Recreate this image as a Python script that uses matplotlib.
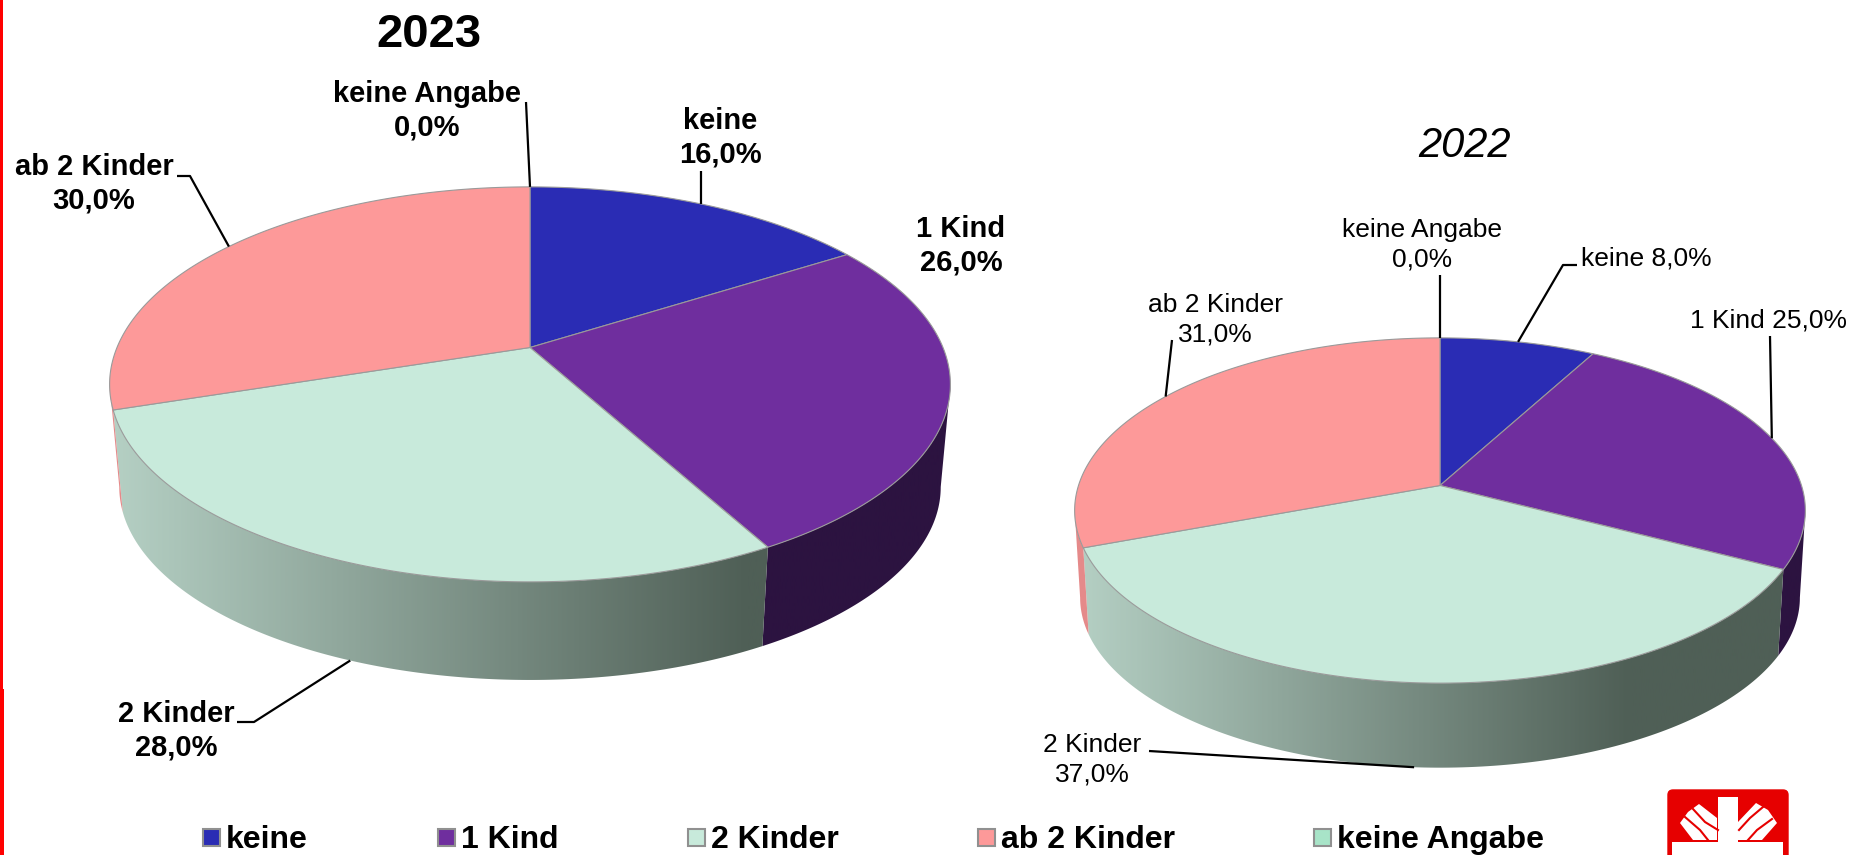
#!/usr/bin/env python3
# -*- coding: utf-8 -*-
import numpy as np
import matplotlib
matplotlib.use("Agg")
import matplotlib.pyplot as plt
from matplotlib.patches import Polygon, Rectangle, FancyBboxPatch
from matplotlib.colors import LinearSegmentedColormap

plt.rcParams['font.family'] = ['Liberation Sans', 'DejaVu Sans']

categories = ['keine', '1 Kind', '2 Kinder', 'ab 2 Kinder', 'keine Angabe']
values_2023 = [16.0, 26.0, 28.0, 30.0, 0.0]
values_2022 = [8.0, 25.0, 37.0, 31.0, 0.0]

top_colors = ['#2a2cb4', '#6f2e9e', '#c8eadb', '#fd9999', '#a8e4c8']
side_light = ['#20228a', '#2c1340', '#b5d0c4', '#e58a8a', '#a8e4c8']
side_dark = ['#20228a', '#2c1340', '#4f5f56', '#e58a8a', '#a8e4c8']
EDGE = '#9a9a9a'


def project(theta, p, lower=False):
    # theta in degrees clockwise from the back of the pie, tilted circle -> image
    t = np.radians(theta)
    d = 1 + p['k'] * np.cos(t)
    s = p['shrink'] if lower else 1.0
    cy = p['cy_low'] if lower else p['cy']
    return p['cx'] + s * p['A'] * np.sin(t) / d, cy - s * p['B'] * np.cos(t) / d


def bounds(values):
    v = np.asarray(values, dtype=float)
    return np.concatenate([[0], np.cumsum(v)]) / v.sum() * 360


def draw_pie(ax, values, p):
    b = bounds(values)
    th_r = np.degrees(np.arccos(-p['k']))
    th_l = 360 - th_r
    xl = p['cx'] - p['A'] / np.sqrt(1 - p['k'] ** 2)
    xr = p['cx'] + p['A'] / np.sqrt(1 - p['k'] ** 2)
    # side walls first
    for i in range(len(values)):
        lo, hi = max(b[i], th_r), min(b[i + 1], th_l)
        if hi <= lo:
            continue
        th = np.linspace(lo, hi, 150)
        x1, y1 = project(th, p)
        x2, y2 = project(th[::-1], p, lower=True)
        wall = Polygon(np.column_stack([np.r_[x1, x2], np.r_[y1, y2]]), closed=True,
                       fc='none', ec='none')
        ax.add_patch(wall)
        cm = LinearSegmentedColormap.from_list('w', [side_light[i], side_dark[i]])
        grad = np.clip(np.linspace(0, 1, 400) / 0.76, 0, 1)[None, :]
        im = ax.imshow(grad, cmap=cm, vmin=0, vmax=1, aspect='auto',
                       extent=(xl, xr, 855, 0), zorder=2)
        im.set_clip_path(wall)
    # top face
    for i in range(len(values)):
        if values[i] == 0:
            continue
        th = np.linspace(b[i], b[i + 1], 200)
        x, y = project(th, p)
        pts = np.column_stack([np.r_[p['cx'], x], np.r_[p['cy'], y]])
        ax.add_patch(Polygon(pts, closed=True, fc=top_colors[i], ec=EDGE, lw=0.8, zorder=3))


def leader(ax, values, i, p, corner, end, lower=False):
    b = bounds(values)
    x, y = project((b[i] + b[i + 1]) / 2, p, lower=lower)
    ax.plot([x, corner[0], end[0]], [y, corner[1], end[1]], color='black', lw=1.6,
            solid_capstyle='butt', zorder=4)


pie_2023 = dict(cx=530, cy=347.5, cy_low=451, A=413, B=190.6, k=0.1867, shrink=0.977)
pie_2022 = dict(cx=1440, cy=485.5, cy_low=573, A=361.5, B=169, k=0.1449, shrink=0.985)

fig = plt.figure(figsize=(18.66, 8.55), dpi=100)
ax = fig.add_axes([0, 0, 1, 1])

draw_pie(ax, values_2023, pie_2023)
draw_pie(ax, values_2022, pie_2022)

# 2023 labels
bold = dict(fontsize=21, fontweight='bold', ha='center', va='center', linespacing=1.25, color='black')
ax.text(429, 35, '2023', fontsize=34, fontweight='bold', ha='center', va='center')
ax.text(427, 111, 'keine Angabe\n0,0%', **bold)
ax.text(720, 138, 'keine\n16,0%', **bold)
ax.text(961, 246, '1 Kind\n26,0%', **bold)
ax.text(94, 184, 'ab 2 Kinder\n30,0%', **bold)
ax.text(176, 731, '2 Kinder\n28,0%', **bold)
leader(ax, values_2023, 4, pie_2023, (526, 102), (526, 102))
leader(ax, values_2023, 0, pie_2023, (701, 171), (701, 171))
leader(ax, values_2023, 3, pie_2023, (190, 176), (177, 176))
leader(ax, values_2023, 2, pie_2023, (254, 722), (237, 722), lower=True)

# 2022 labels
reg = dict(fontsize=19, ha='center', va='center', linespacing=1.3, color='black')
ax.text(1464, 146, '2022', fontsize=30, fontstyle='italic', ha='center', va='center')
ax.text(1422, 245, 'keine Angabe\n0,0%', **reg)
ax.text(1646, 258, 'keine 8,0%', **reg)
ax.text(1768, 320, '1 Kind 25,0%', **reg)
ax.text(1215, 320, 'ab 2 Kinder\n31,0%', **reg)
ax.text(1092, 760, '2 Kinder\n37,0%', **reg)
leader(ax, values_2022, 4, pie_2022, (1440, 275), (1440, 275))
leader(ax, values_2022, 0, pie_2022, (1563, 265), (1577, 265))
leader(ax, values_2022, 1, pie_2022, (1770, 336), (1770, 336))
leader(ax, values_2022, 3, pie_2022, (1172, 340), (1172, 340))
leader(ax, values_2022, 2, pie_2022, (1149, 751), (1149, 751), lower=True)

# legend
legend_x = [203, 438, 688, 978, 1314]
for name, col, lx in zip(categories, top_colors, legend_x):
    ax.add_patch(Rectangle((lx, 829), 17, 17, fc=col, ec='#909090', lw=1.5, zorder=5))
    ax.text(lx + 23, 840, name, fontsize=23, fontweight='bold', ha='left', va='center')

# red border on the left
ax.add_patch(Rectangle((0, 0), 2.7, 689, fc='#ff0000', ec='none'))
ax.add_patch(Rectangle((0, 689), 4, 166, fc='#ff0000', ec='none'))

# logo
RED = '#e60000'
ax.add_patch(FancyBboxPatch((1668, 790), 120, 80, boxstyle='round,pad=0,rounding_size=5',
                            fc=RED, ec=RED, lw=1))
ax.add_patch(Rectangle((1718, 797), 20, 50, fc='white', ec='none'))
ax.add_patch(Rectangle((1672, 842), 111, 20, fc='white', ec='none'))
flame_l = [(1699, 804), (1717, 818), (1717, 840), (1693, 840), (1680, 823), (1688, 812)]
flame_r = [(1756, 803), (1768, 810), (1777, 823), (1762, 840), (1738, 840), (1738, 822)]
ax.add_patch(Polygon(flame_l, fc='white', ec='none'))
ax.add_patch(Polygon(flame_r, fc='white', ec='none'))
stripes = [([1693, 1705, 1718], [809, 822, 830]), ([1685, 1700, 1708], [817, 830, 840]),
           ([1763, 1750, 1739], [807, 818, 830]), ([1772, 1757, 1748], [819, 830, 840])]
for sx, sy in stripes:
    ax.plot(sx, sy, color=RED, lw=1.5)

ax.set_xlim(0, 1866)
ax.set_ylim(855, 0)
ax.axis('off')
fig.savefig('out.png', dpi=100)
